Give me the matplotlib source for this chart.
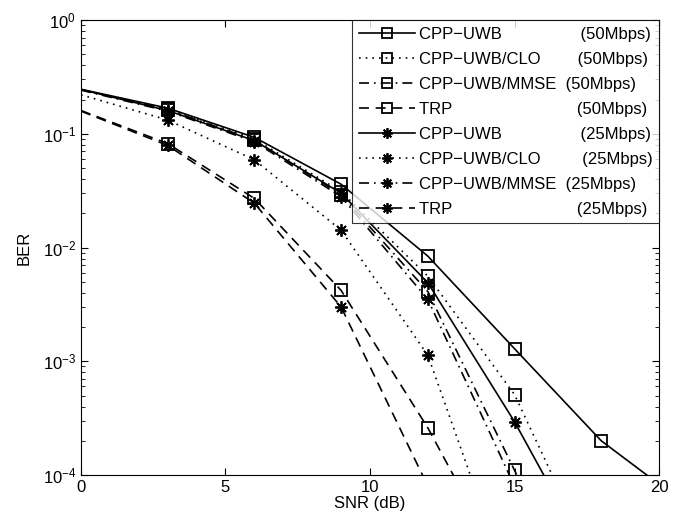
import numpy as np
import matplotlib.pyplot as plt

plt.rcParams['font.family'] = ['Liberation Sans', 'DejaVu Sans']

# SNR points (dB); markers drawn at every point except 0 dB
snr = [0, 3, 6, 9, 12, 15, 18, 20]

ber_cpp_50 = [0.246, 0.168, 0.093, 0.036, 0.0084, 0.00129, 2.0e-4, 8.3e-5]
ber_clo_50 = [0.244, 0.165, 0.090, 0.031, 0.0056, 5.1e-4, 1.2e-5]
ber_mmse_50 = [0.244, 0.163, 0.088, 0.029, 0.0041, 1.1e-4, 3.0e-6]
ber_trp_50 = [0.160, 0.082, 0.027, 0.0042, 2.6e-4, 1.0e-5]
ber_cpp_25 = [0.245, 0.160, 0.087, 0.030, 0.0049, 2.94e-4, 1.2e-5]
ber_clo_25 = [0.220, 0.132, 0.059, 0.0142, 1.13e-3, 8.0e-6]
ber_mmse_25 = [0.242, 0.158, 0.085, 0.028, 0.0035, 8.0e-5]
ber_trp_25 = [0.158, 0.079, 0.0245, 0.0030, 8.0e-5]

labels = [
    'CPP\u2212UWB                 (50Mbps)',
    'CPP\u2212UWB/CLO        (50Mbps)',
    'CPP\u2212UWB/MMSE  (50Mbps)',
    'TRP                           (50Mbps)',
    'CPP\u2212UWB                 (25Mbps)',
    'CPP\u2212UWB/CLO         (25Mbps)',
    'CPP\u2212UWB/MMSE  (25Mbps)',
    'TRP                           (25Mbps)',
]

series = [ber_cpp_50, ber_clo_50, ber_mmse_50, ber_trp_50,
          ber_cpp_25, ber_clo_25, ber_mmse_25, ber_trp_25]
styles = ['-', (0, (1, 3)), (0, (6, 3, 1, 3)), (0, (6, 4))] * 2
star = (8, 2, 0)
markers = ['s'] * 4 + [star] * 4

fig = plt.figure(figsize=(6.84, 5.22), dpi=100)
ax = fig.add_axes([0.1184, 0.0900, 0.8451, 0.8717])

for y, ls, mk, lab in zip(series, styles, markers, labels):
    x = snr[:len(y)]
    ax.semilogy(x, y, color='black', linestyle=ls, linewidth=1.2,
                marker=mk, markersize=9, markerfacecolor='none',
                markeredgecolor='black', markeredgewidth=1.3,
                markevery=slice(1, None), label=lab)

ax.set_xlim(0, 20)
ax.set_ylim(1e-4, 1)
ax.set_xticks([0, 5, 10, 15, 20])
ax.set_xlabel('SNR (dB)', fontsize=12, labelpad=1)
ax.set_ylabel('BER', fontsize=12, labelpad=8)
ax.tick_params(which='both', direction='in', top=True, right=True, labelsize=12)
ax.tick_params(which='major', length=5)
ax.tick_params(which='minor', length=3)

leg = ax.legend(loc='upper right', fontsize=12, frameon=True, fancybox=False,
                edgecolor='black', borderaxespad=0, handlelength=3.4,
                labelspacing=0.6, borderpad=0.4, handletextpad=0.2,
                markerscale=0.85)
leg.get_frame().set_linewidth(0.8)

fig.savefig('out.png', dpi=100)
